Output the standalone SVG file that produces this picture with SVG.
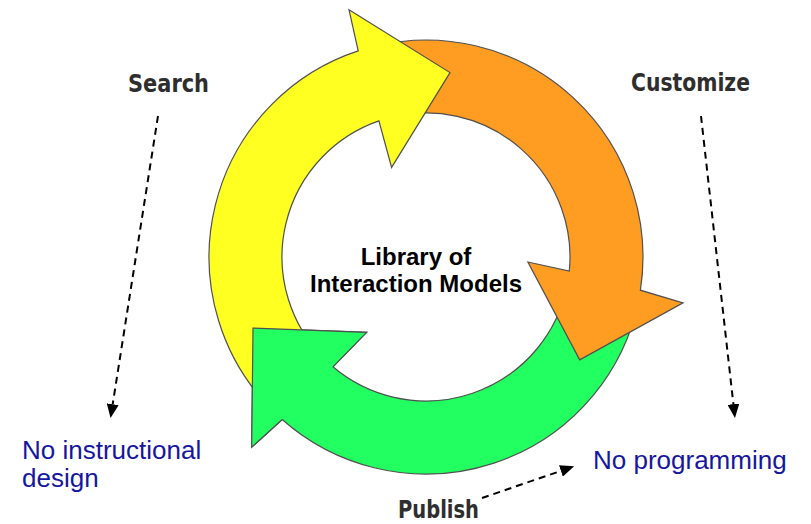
<svg xmlns="http://www.w3.org/2000/svg" width="811" height="524" viewBox="0 0 811 524">
<defs>
<style>
.arrow{stroke:#505050;stroke-width:1.2;stroke-linejoin:miter}
.y{fill:#ffff22}
.o{fill:#ff9c22}
.g{fill:#22ff60}
.step{font-family:"DejaVu Sans",sans-serif;font-weight:bold;font-size:25px;fill:#2e2e2e}
.center{font-family:"Liberation Sans",Arial,sans-serif;font-weight:bold;font-size:24px;fill:#000;text-anchor:middle}
.note{font-family:"Liberation Sans",Arial,sans-serif;font-size:26px;fill:#16169e}
.dash{stroke:#000;stroke-width:2;stroke-dasharray:7 5;fill:none}
</style>
<marker id="ah" markerWidth="14" markerHeight="12" refX="0" refY="6" orient="auto" markerUnits="userSpaceOnUse">
<path d="M0,0 L14,6 L0,12 z" fill="#000"/>
</marker>
</defs>
<rect width="811" height="524" fill="#fff"/>
<g id="cycle">
<g id="publish-arrow">
<path class="arrow g" d="M638.3,302.1 A217,217 0 0 1 282.2,419.5 L251.7,447.2 L253,328 L366.6,332.4 L332.9,366.8 A144,144 0 0 0 566.9,286.9 Z"/>
</g>
<g id="customize-arrow">
<path class="arrow o" d="M377.2,45.6 A217,217 0 0 1 640.4,290.2 L683,302.8 L579.7,359.9 L527.9,262 L569.3,271.1 A144,144 0 0 0 393.6,116.7 Z"/>
</g>
<g id="search-arrow">
<path class="arrow y" d="M269.9,407.7 A217,217 0 0 1 358.2,50.9 L349,9.7 L450,72.6 L391.6,167.4 L378.9,120.9 A144,144 0 0 0 322.4,357 Z"/>
</g>
<g id="publish-arrow-head">
<polyline class="arrow g" points="282.2,419.5 251.7,447.2 253,328 366.6,332.4 332.9,366.8"/>
</g>
</g>
<g id="library">
<text class="center" x="416" y="265">Library of</text>
<text class="center" x="416" y="292">Interaction Models</text>
</g>
<g id="search"><text class="step" x="128" y="92" textLength="81" lengthAdjust="spacingAndGlyphs">Search</text></g>
<g id="customize"><text class="step" x="631" y="91" textLength="119" lengthAdjust="spacingAndGlyphs">Customize</text></g>
<g id="publish"><text class="step" x="398" y="518" textLength="81" lengthAdjust="spacingAndGlyphs">Publish</text></g>
<g id="no-instructional-design">
<text class="note" x="22" y="459">No instructional</text>
<text class="note" x="22" y="487">design</text>
</g>
<g id="no-programming"><text class="note" x="593" y="469">No programming</text></g>
<g id="connectors">
<line class="dash" x1="158" y1="116" x2="112.7" y2="404.2" marker-end="url(#ah)"/>
<line class="dash" x1="701" y1="116" x2="733.4" y2="404.1" marker-end="url(#ah)"/>
<line class="dash" x1="482" y1="498" x2="560.9" y2="470.9" marker-end="url(#ah)"/>
</g>
</svg>
